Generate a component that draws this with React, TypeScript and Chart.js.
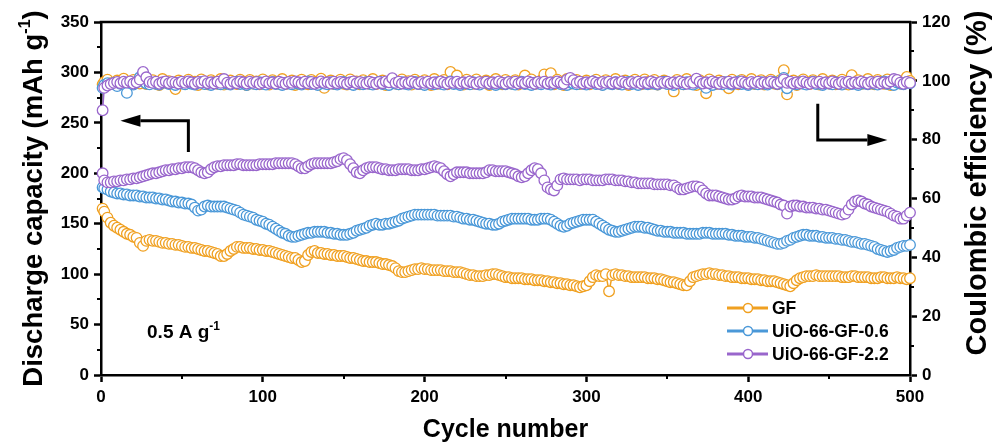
import React, { useEffect, useRef } from "react";
import { Chart, registerables } from "chart.js";

Chart.register(...registerables);

// ---------- data: cycle 1, then every 2 cycles up to 500 ----------
const CYCLES = Array.from({ length: 251 }, (_, i) => (i === 0 ? 1 : i * 2));

const SERIES_LABELS = ["GF", "UiO-66-GF-0.6", "UiO-66-GF-2.2"];
const SERIES_COLORS = ["#F0A020", "#4A98D8", "#9966CC"];

// Discharge capacity (mAh g-1)
const GF_CAPACITY = [
  165,
  162, 156, 151, 148, 146, 144, 142, 140, 139, 137, 136, 131, 128, 133, 134, 133, 133, 132, 131, 131, 130, 130, 129, 129, 128,
  127, 127, 126, 126, 125, 124, 123, 123, 122, 121, 120, 118, 118, 120, 123, 125, 127, 127, 126, 126, 126, 125, 125, 124, 124,
  123, 123, 122, 121, 120, 119, 118, 117, 116, 116, 114, 112, 113, 119, 122, 123, 121, 121, 120, 120, 119, 119, 118, 118, 118,
  117, 116, 116, 115, 114, 113, 113, 112, 112, 112, 111, 110, 110, 109, 108, 106, 103, 102, 102, 103, 104, 105, 105, 106, 105,
  105, 104, 104, 104, 104, 103, 103, 103, 102, 102, 102, 101, 100, 99, 99, 98, 98, 98, 99, 99, 100, 100, 99, 98, 97,
  97, 96, 96, 96, 96, 95, 95, 95, 94, 94, 94, 93, 93, 92, 92, 91, 91, 90, 90, 89, 89, 88, 87, 88, 89,
  93, 97, 99, 98, 98, 100, 83, 99, 100, 99, 99, 98, 98, 97, 97, 97, 97, 97, 96, 96, 96, 95, 95, 94, 93,
  92, 92, 91, 90, 89, 89, 93, 97, 98, 99, 100, 100, 101, 100, 100, 99, 99, 98, 98, 97, 97, 97, 96, 96, 96,
  95, 95, 95, 94, 94, 93, 93, 93, 92, 91, 90, 89, 88, 91, 94, 96, 97, 98, 98, 98, 99, 98, 98, 98, 98,
  98, 98, 98, 97, 97, 97, 98, 98, 97, 97, 97, 97, 96, 96, 96, 97, 97, 96, 96, 96, 97, 96, 96, 95, 96,
];
const UIO06_CAPACITY = [
  186,
  185, 184, 182, 181, 180, 180, 179, 179, 178, 178, 178, 177, 177, 176, 176, 176, 175, 175, 174, 174, 173, 172, 172, 171, 171,
  170, 170, 169, 166, 163, 164, 167, 168, 167, 167, 167, 167, 167, 166, 165, 164, 163, 161, 159, 158, 157, 156, 154, 153, 152,
  150, 149, 147, 145, 143, 141, 140, 138, 137, 137, 138, 139, 140, 141, 141, 142, 142, 142, 142, 141, 141, 140, 140, 139, 139,
  139, 140, 141, 143, 144, 145, 146, 148, 149, 150, 149, 149, 150, 150, 151, 152, 153, 155, 156, 157, 158, 159, 159, 159, 159,
  159, 159, 159, 158, 158, 158, 158, 158, 157, 157, 156, 155, 155, 154, 154, 153, 152, 151, 150, 150, 149, 149, 150, 152, 153,
  154, 155, 155, 155, 155, 155, 155, 154, 154, 154, 155, 155, 155, 154, 152, 150, 148, 147, 148, 150, 151, 152, 153, 154, 154,
  154, 154, 152, 150, 148, 146, 144, 143, 142, 142, 143, 144, 145, 146, 147, 147, 147, 146, 146, 145, 144, 143, 143, 142, 142,
  142, 141, 141, 141, 141, 140, 140, 140, 140, 140, 141, 141, 141, 140, 140, 140, 140, 140, 139, 139, 138, 138, 138, 137, 137,
  137, 136, 136, 135, 134, 133, 132, 131, 130, 130, 131, 133, 134, 136, 137, 138, 139, 139, 138, 138, 138, 137, 137, 136, 136,
  136, 135, 135, 134, 134, 133, 132, 132, 131, 130, 130, 129, 128, 127, 125, 124, 123, 122, 123, 124, 126, 127, 128, 128, 129,
];
const UIO22_CAPACITY = [
  200,
  193, 191, 191, 192, 192, 193, 193, 194, 194, 195, 195, 196, 197, 198, 199, 200, 200, 201, 202, 203, 203, 204, 204, 205, 205,
  206, 206, 206, 205, 203, 201, 200, 201, 204, 206, 207, 207, 208, 208, 208, 208, 209, 209, 208, 208, 208, 208, 208, 209, 209,
  209, 209, 209, 210, 210, 210, 210, 210, 210, 209, 207, 205, 205, 207, 209, 210, 210, 210, 210, 210, 210, 211, 212, 214, 215,
  213, 209, 205, 201, 200, 203, 205, 206, 206, 206, 205, 204, 204, 203, 203, 203, 204, 204, 204, 204, 203, 203, 203, 204, 204,
  205, 206, 207, 206, 205, 202, 199, 197, 199, 201, 201, 201, 201, 200, 200, 200, 200, 200, 201, 203, 203, 202, 202, 202, 202,
  201, 200, 199, 197, 196, 197, 200, 203, 205, 204, 200, 193, 186, 184, 183, 188, 194, 195, 194, 194, 194, 194, 193, 194, 194,
  194, 193, 193, 193, 193, 194, 194, 194, 193, 193, 193, 192, 192, 191, 191, 190, 190, 190, 190, 190, 189, 189, 189, 189, 189,
  188, 188, 186, 184, 184, 185, 186, 187, 187, 186, 183, 180, 178, 178, 178, 177, 176, 175, 174, 174, 175, 177, 178, 177, 177,
  177, 176, 176, 176, 175, 174, 173, 172, 171, 169, 168, 160, 167, 168, 168, 167, 167, 166, 166, 166, 165, 165, 164, 164, 163,
  162, 161, 160, 159, 160, 164, 169, 172, 173, 172, 170, 169, 167, 166, 165, 164, 163, 162, 160, 158, 157, 155, 155, 158, 161,
];

// Coulombic efficiency (%)
const GF_CE = [
  98.8,
  99.6, 100.4, 99.2, 98.9, 100.1, 99.5, 100.7, 99.0, 98.7, 100.3, 99.8, 99.1, 100.5, 98.9, 99.4, 100.2, 99.0, 98.6, 100.6, 99.3, 99.9, 98.8, 97.2, 100.1, 99.5,
  98.9, 100.4, 99.2, 99.7, 98.6, 100.5, 99.3, 98.8, 100.2, 99.6, 99.0, 100.6, 98.7, 99.4, 100.1, 99.2, 98.9, 100.4, 99.7, 98.6, 100.3, 99.1, 99.8, 98.8, 100.5,
  99.4, 98.7, 100.2, 99.6, 99.0, 100.6, 98.9, 99.3, 100.1, 98.6, 99.8, 100.4, 99.1, 98.8, 100.3, 99.5, 99.0, 100.7, 97.6, 99.2, 100.1, 98.9, 99.6, 100.4, 99.0,
  98.7, 100.5, 99.3, 99.8, 98.8, 100.2, 99.5, 99.0, 100.6, 98.9, 99.4, 100.1, 98.6, 99.7, 100.3, 99.1, 98.8, 100.5, 99.2, 99.9, 98.7, 100.4, 99.5, 98.9, 100.2,
  99.3, 98.6, 100.6, 99.0, 99.7, 100.3, 98.8, 103.0, 99.4, 101.8, 99.1, 98.7, 100.4, 99.6, 99.0, 100.5, 98.9, 99.3, 100.1, 98.6, 99.8, 100.6, 99.2, 98.8, 100.3,
  99.5, 99.0, 100.2, 98.7, 99.4, 101.8, 99.1, 100.5, 98.9, 99.6, 100.1, 102.2, 99.3, 102.6, 98.8, 100.4, 99.2, 98.6, 100.6, 99.0, 99.7, 100.3, 98.9, 99.5, 100.1,
  98.8, 99.6, 100.4, 99.1, 98.7, 100.2, 99.5, 99.0, 100.6, 98.9, 99.3, 100.1, 98.6, 99.8, 100.4, 99.2, 98.8, 100.5, 99.6, 99.0, 100.3, 98.7, 99.4, 100.1, 99.1,
  98.9, 96.4, 100.3, 99.5, 98.8, 100.6, 99.2, 99.7, 98.6, 100.2, 99.0, 95.8, 100.5, 99.3, 98.9, 100.1, 99.6, 98.7, 97.5, 100.4, 99.2, 98.8, 100.3, 99.5, 99.0,
  100.6, 98.9, 99.4, 100.2, 98.7, 99.6, 100.4, 99.1, 98.8, 100.3, 103.6, 95.4, 99.5, 100.1, 98.6, 99.8, 100.5, 99.0, 98.9, 100.2, 99.3, 98.7, 100.6, 99.4, 99.1,
  100.1, 98.8, 99.6, 100.4, 99.0, 98.7, 101.9, 99.3, 100.2, 98.9, 99.5, 100.6, 99.1, 98.8, 100.3, 99.7, 99.0, 100.5, 98.6, 99.4, 100.2, 99.1, 98.9, 101.3, 100.0,
];
const UIO06_CE = [
  97.6,
  98.6, 99.2, 98.9, 99.4, 98.2, 99.0, 98.8, 95.9, 99.3, 98.7, 99.5, 101.2, 102.4, 99.1, 98.8, 99.4, 99.0, 98.7, 99.3, 99.6, 98.9, 99.2, 98.6, 99.4, 99.1,
  98.8, 99.5, 99.0, 98.7, 99.3, 99.6, 98.9, 99.2, 98.6, 99.4, 99.1, 98.8, 99.5, 99.0, 98.7, 99.3, 99.7, 98.9, 99.2, 98.6, 99.4, 99.1, 98.8, 99.5, 99.0,
  98.7, 99.3, 99.6, 98.9, 99.2, 98.6, 99.4, 99.1, 98.8, 99.5, 99.0, 98.7, 99.3, 99.8, 98.9, 99.2, 98.6, 99.4, 99.1, 98.8, 99.5, 99.0, 98.7, 99.3, 99.6,
  98.9, 99.2, 98.6, 99.4, 99.1, 98.8, 99.5, 99.0, 98.7, 99.3, 99.7, 98.9, 99.2, 98.6, 99.4, 99.1, 98.8, 99.5, 99.0, 98.7, 99.3, 99.6, 98.9, 99.2, 98.6,
  99.4, 99.1, 98.8, 99.5, 99.0, 98.7, 99.3, 99.8, 98.9, 99.2, 98.6, 99.4, 99.1, 98.8, 99.5, 99.0, 98.7, 99.3, 99.6, 98.9, 99.2, 98.6, 99.4, 99.1, 98.8,
  99.5, 99.0, 98.7, 99.3, 99.7, 98.9, 99.2, 98.6, 99.4, 99.1, 98.8, 99.5, 99.0, 98.7, 99.3, 99.6, 98.9, 99.2, 98.6, 99.4, 99.1, 98.8, 99.5, 99.0, 98.7,
  99.3, 99.8, 98.9, 99.2, 98.6, 99.4, 99.1, 98.8, 99.5, 99.0, 98.7, 99.3, 99.6, 98.9, 99.2, 98.6, 99.4, 99.1, 98.8, 99.5, 99.0, 98.7, 99.3, 99.7, 98.9,
  99.2, 98.6, 99.4, 99.1, 98.8, 99.5, 99.0, 98.7, 99.3, 99.6, 98.9, 97.6, 99.2, 98.6, 99.4, 99.1, 98.8, 99.5, 99.0, 98.7, 99.3, 99.8, 98.9, 99.2, 98.6,
  99.4, 99.1, 98.8, 99.5, 99.0, 98.7, 99.3, 99.6, 98.9, 99.2, 101.0, 97.5, 99.4, 99.1, 98.8, 99.5, 99.0, 98.7, 99.3, 99.7, 98.9, 99.2, 98.6, 99.4, 99.1,
  98.8, 99.5, 99.0, 98.7, 99.3, 99.6, 98.9, 99.2, 98.6, 99.4, 99.1, 98.8, 99.5, 99.0, 98.7, 99.3, 99.8, 98.9, 99.2, 98.6, 99.4, 99.1, 98.8, 99.5, 99.2,
];
const UIO22_CE = [
  90.0,
  97.6, 98.4, 98.9, 99.3, 99.6, 99.2, 99.7, 99.4, 99.8, 99.1, 99.5, 100.4, 103.0, 101.2, 99.6, 99.3, 99.7, 99.0, 99.5, 99.8, 99.2, 99.6, 99.4, 99.1, 99.7,
  99.3, 99.8, 99.5, 99.0, 99.6, 99.4, 99.9, 99.2, 99.5, 99.1, 99.7, 99.3, 100.6, 99.4, 99.0, 99.6, 99.2, 99.8, 99.5, 99.1, 99.7, 99.3, 99.6, 99.0, 99.4,
  99.8, 99.2, 99.5, 99.1, 99.7, 99.4, 99.0, 99.6, 99.3, 99.8, 99.5, 99.1, 99.7, 99.2, 99.6, 99.0, 99.4, 99.8, 99.3, 99.5, 99.1, 99.7, 99.2, 99.6, 99.4,
  99.0, 99.5, 99.8, 99.2, 99.6, 99.3, 99.1, 99.7, 99.4, 99.0, 99.6, 99.2, 99.8, 99.5, 100.9, 99.3, 99.7, 99.1, 99.5, 99.2, 99.8, 99.4, 99.0, 99.6, 99.3,
  99.7, 99.1, 99.5, 99.2, 99.8, 99.4, 99.0, 99.6, 99.3, 99.7, 99.1, 99.5, 99.2, 99.8, 99.4, 99.0, 99.6, 99.3, 99.7, 99.1, 99.5, 99.2, 99.8, 99.4, 99.0,
  99.6, 99.3, 99.7, 99.1, 99.5, 99.2, 99.8, 99.4, 99.0, 99.6, 99.3, 99.7, 99.1, 99.5, 99.2, 99.8, 99.4, 99.0, 100.4, 101.0, 100.2, 99.3, 99.7, 99.1, 99.5,
  99.2, 99.8, 99.4, 99.0, 99.6, 99.3, 99.7, 99.1, 99.5, 99.2, 99.8, 99.4, 99.0, 99.6, 99.3, 99.7, 99.1, 99.5, 99.2, 99.8, 99.4, 99.0, 99.6, 99.3, 99.7,
  99.1, 99.5, 99.2, 99.8, 99.4, 99.0, 99.6, 99.3, 100.7, 99.7, 99.1, 99.5, 99.2, 99.8, 99.4, 99.0, 99.6, 99.3, 99.7, 99.1, 99.5, 99.2, 99.8, 99.4, 99.0,
  99.6, 99.3, 99.7, 99.1, 99.5, 99.2, 99.8, 99.4, 99.0, 99.6, 100.5, 99.3, 99.7, 99.1, 99.5, 99.2, 99.8, 99.4, 99.0, 99.6, 99.3, 99.7, 99.1, 99.5, 99.2,
  99.8, 99.4, 99.0, 99.6, 99.3, 99.7, 99.1, 99.5, 99.2, 99.8, 99.4, 99.0, 99.6, 99.3, 99.7, 99.1, 99.5, 99.2, 99.8, 100.6, 100.3, 99.4, 99.0, 99.6, 99.3,
];

// ---------- axes ----------
const X_TICKS = [0, 100, 200, 300, 400, 500];
const X_MINOR = [50, 150, 250, 350, 450];
const LEFT_TICKS = [0, 50, 100, 150, 200, 250, 300, 350];
const LEFT_MINOR = [25, 75, 125, 175, 225, 275, 325];
const RIGHT_TICKS = [0, 20, 40, 60, 80, 100, 120];
const RIGHT_MINOR = [10, 30, 50, 70, 90, 110];

const X_TITLE = "Cycle number";
const LEFT_TITLE = ["Discharge capacity (mAh g", "-1", ")"];
const RIGHT_TITLE = "Coulombic efficiency (%)";
const RATE_NOTE = ["0.5 A g", "-1"];

// arrows in data units (x: cycle, y: capacity)
const LEFT_ARROW = [[54, 221], [54, 252], [12, 252]];
const RIGHT_ARROW = [[443, 269], [443, 233], [486, 233]];
const RATE_NOTE_POS = [51, 37];

const FAMILY = '"Liberation Sans", Arial, Helvetica, sans-serif';

function toPts(values: number[]) {
  return values.map((v, i) => ({ x: CYCLES[i], y: v }));
}

function drawRich(ctx: CanvasRenderingContext2D, parts: { t: string; sup?: boolean }[], size: number, supSize: number) {
  let total = 0;
  const widths = parts.map((p) => {
    ctx.font = `bold ${p.sup ? supSize : size}px ${FAMILY}`;
    const w = ctx.measureText(p.t).width;
    total += w;
    return w;
  });
  let x = -total / 2;
  parts.forEach((p, i) => {
    ctx.font = `bold ${p.sup ? supSize : size}px ${FAMILY}`;
    ctx.textAlign = "left";
    ctx.textBaseline = "alphabetic";
    ctx.fillText(p.t, x, p.sup ? -size * 0.42 : 0);
    x += widths[i];
  });
}

const decor = {
  id: "decor",
  afterDraw(chart: any) {
    const { ctx, chartArea: a, scales } = chart;
    const sx = scales.x, sy = scales.y, sy1 = scales.y1;
    ctx.save();
    ctx.strokeStyle = "#000";
    ctx.fillStyle = "#000";
    ctx.lineWidth = 2.5;
    ctx.beginPath();
    ctx.moveTo(a.left - 1.25, a.top);
    ctx.lineTo(a.right + 1.25, a.top);
    ctx.stroke();
    ctx.lineWidth = 2;
    ctx.beginPath();
    LEFT_MINOR.forEach((v) => {
      const py = Math.round(sy.getPixelForValue(v));
      ctx.moveTo(a.left - 4, py);
      ctx.lineTo(a.left, py);
    });
    RIGHT_MINOR.forEach((v) => {
      const py = Math.round(sy1.getPixelForValue(v));
      ctx.moveTo(a.right, py);
      ctx.lineTo(a.right + 4, py);
    });
    X_MINOR.forEach((v) => {
      const px = Math.round(sx.getPixelForValue(v));
      ctx.moveTo(px, a.bottom);
      ctx.lineTo(px, a.bottom + 4);
    });
    ctx.stroke();

    const arrow = (pts: number[][]) => {
      const p = pts.map(([x, y]) => [sx.getPixelForValue(x), sy.getPixelForValue(y)]);
      const [tx, ty] = p[p.length - 1];
      const [cx] = p[p.length - 2];
      const dir = Math.sign(tx - cx);
      const headLen = 20;
      ctx.lineWidth = 3;
      ctx.beginPath();
      ctx.moveTo(p[0][0], p[0][1]);
      for (let i = 1; i < p.length - 1; i++) ctx.lineTo(p[i][0], p[i][1]);
      ctx.lineTo(tx - dir * headLen, ty);
      ctx.stroke();
      ctx.beginPath();
      ctx.moveTo(tx, ty);
      ctx.lineTo(tx - dir * headLen, ty - 6);
      ctx.lineTo(tx - dir * headLen, ty + 6);
      ctx.closePath();
      ctx.fill();
    };
    arrow(LEFT_ARROW);
    arrow(RIGHT_ARROW);

    ctx.save();
    ctx.translate(sx.getPixelForValue(RATE_NOTE_POS[0]), sy.getPixelForValue(RATE_NOTE_POS[1]));
    drawRich(ctx, [{ t: RATE_NOTE[0] }, { t: RATE_NOTE[1], sup: true }], 19, 12);
    ctx.restore();

    ctx.save();
    ctx.translate((a.left + a.right) / 2, 437);
    drawRich(ctx, [{ t: X_TITLE }], 25, 15);
    ctx.restore();

    ctx.save();
    ctx.translate(42, (a.top + a.bottom) / 2);
    ctx.rotate(-Math.PI / 2);
    drawRich(ctx, [{ t: LEFT_TITLE[0] }, { t: LEFT_TITLE[1], sup: true }, { t: LEFT_TITLE[2] }], 27.5, 16);
    ctx.restore();

    ctx.save();
    ctx.translate(986, 183);
    ctx.rotate(-Math.PI / 2);
    drawRich(ctx, [{ t: RIGHT_TITLE }], 29, 16);
    ctx.restore();

    const lx = a.right - 183;
    const rows = [a.bottom - 67, a.bottom - 44, a.bottom - 21];
    chart.data.datasets.slice(0, 3).forEach((ds: any, i: number) => {
      const yy = rows[i];
      ctx.strokeStyle = ds.borderColor;
      ctx.lineWidth = 3;
      ctx.beginPath();
      ctx.moveTo(lx, yy);
      ctx.lineTo(lx + 41, yy);
      ctx.stroke();
      ctx.fillStyle = "#fff";
      ctx.lineWidth = 1.5;
      ctx.beginPath();
      ctx.arc(lx + 21, yy, 4.5, 0, Math.PI * 2);
      ctx.fill();
      ctx.stroke();
      ctx.fillStyle = "#000";
      ctx.font = `bold 17.5px ${FAMILY}`;
      ctx.textAlign = "left";
      ctx.textBaseline = "middle";
      ctx.fillText(ds.label, lx + 45, yy + 1);
    });
    ctx.restore();
  },
};

function makeDataset(label: string, color: string, values: number[], axis: string, order: number) {
  return {
    label,
    data: toPts(values),
    yAxisID: axis,
    borderColor: color,
    backgroundColor: "#fff",
    borderWidth: 1.5,
    pointRadius: 5.3,
    pointBorderWidth: 1.3,
    pointBackgroundColor: "#fff",
    pointBorderColor: color,
    showLine: true,
    tension: 0,
    order,
    clip: 6,
  };
}

export default function App() {
  const ref = useRef<HTMLCanvasElement | null>(null);
  useEffect(() => {
    if (!ref.current) return;
    const tickFont = { family: FAMILY, size: 17, weight: "bold" as const };
    const grid = { drawOnChartArea: false, drawTicks: true, tickLength: 7, tickWidth: 2.5, tickColor: "#000" };
    const border = { display: true, color: "#000", width: 2.5 };
    const chart = new Chart(ref.current, {
      type: "line",
      data: {
        datasets: [
          makeDataset(SERIES_LABELS[0], SERIES_COLORS[0], GF_CAPACITY, "y", 2),
          makeDataset(SERIES_LABELS[1], SERIES_COLORS[1], UIO06_CAPACITY, "y", 1),
          makeDataset(SERIES_LABELS[2], SERIES_COLORS[2], UIO22_CAPACITY, "y", 0),
          makeDataset(SERIES_LABELS[0] + " CE", SERIES_COLORS[0], GF_CE, "y1", 5),
          makeDataset(SERIES_LABELS[1] + " CE", SERIES_COLORS[1], UIO06_CE, "y1", 4),
          makeDataset(SERIES_LABELS[2] + " CE", SERIES_COLORS[2], UIO22_CE, "y1", 3),
        ] as any,
      },
      options: {
        responsive: false,
        animation: false,
        layout: { padding: { top: 22, left: 0, right: 0, bottom: 0 } },
        plugins: { legend: { display: false }, tooltip: { enabled: false } },
        scales: {
          x: {
            type: "linear",
            position: "bottom",
            min: 0,
            max: 500,
            afterBuildTicks: (s: any) => { s.ticks = X_TICKS.map((v) => ({ value: v })); },
            afterFit: (s: any) => { s.height = 68; },
            grid,
            border,
            ticks: { font: tickFont, color: "#000", padding: 5, maxRotation: 0 },
          },
          y: {
            type: "linear",
            position: "left",
            min: 0,
            max: 350,
            afterBuildTicks: (s: any) => { s.ticks = LEFT_TICKS.map((v) => ({ value: v })); },
            afterFit: (s: any) => { s.width = 101; },
            grid,
            border,
            ticks: { font: tickFont, color: "#000", padding: 5 },
          },
          y1: {
            type: "linear",
            position: "right",
            min: 0,
            max: 120,
            afterBuildTicks: (s: any) => { s.ticks = RIGHT_TICKS.map((v) => ({ value: v })); },
            afterFit: (s: any) => { s.width = 83; },
            grid,
            border,
            ticks: { font: tickFont, color: "#000", padding: 5 },
          },
        },
      } as any,
      plugins: [decor],
    });
    return () => chart.destroy();
  }, []);
  return (
    <div style={{ position: "fixed", left: 0, top: 0, width: 993, height: 443, background: "#fff" }}>
      <canvas ref={ref} width={993} height={443} style={{ width: 993, height: 443, display: "block" }} />
    </div>
  );
}
